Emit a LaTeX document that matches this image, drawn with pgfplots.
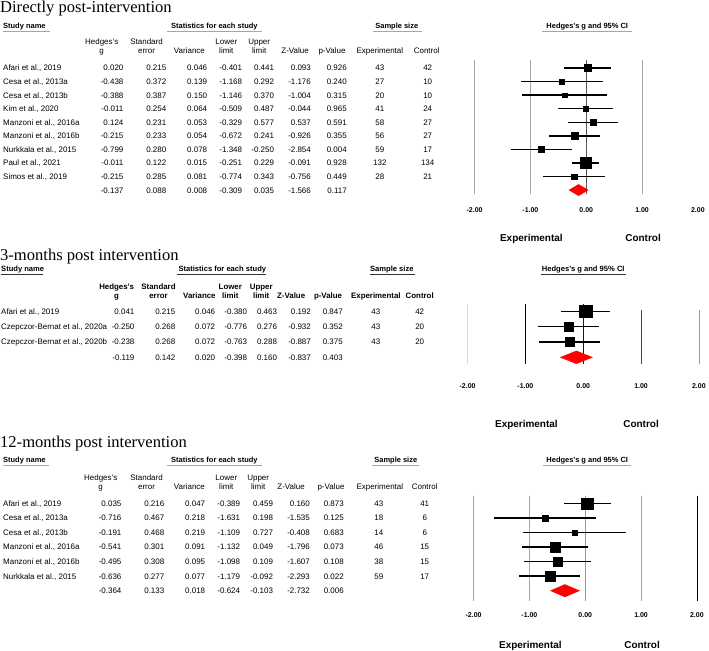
\documentclass[border=0pt]{standalone}
\usepackage{pgfplots}
\pgfplotsset{compat=1.18}
\usepackage{pgfplotstable}
\usepackage{fontspec}
\setmainfont{Liberation Sans}
\newfontfamily\tnr{Liberation Serif}
\newcommand\fs[1]{\fontsize{#1}{#1}\selectfont}

% forest data: row index, Hedges's g, lower, upper, half side of square (pt)
\pgfplotstableread{
row g lo hi s
0 0.020 -0.401 0.441 3.6
1 -0.438 -1.168 0.292 2.2
2 -0.388 -1.146 0.370 2.2
3 -0.011 -0.509 0.487 2.9
4 0.124 -0.329 0.577 3.3
5 -0.215 -0.672 0.241 3.5
6 -0.799 -1.348 -0.250 3.0
7 -0.011 -0.251 0.229 5.3
8 -0.215 -0.774 0.343 2.8
}\directpost
\pgfplotstableread{
row g lo hi s
0 0.041 -0.380 0.463 6.3
1 -0.250 -0.776 0.276 4.7
2 -0.238 -0.763 0.288 4.7
}\threemonths
\pgfplotstableread{
row g lo hi s
0 0.035 -0.389 0.459 5.8
1 -0.716 -1.631 0.198 2.8
2 -0.191 -1.109 0.727 2.8
3 -0.541 -1.132 0.049 4.7
4 -0.495 -1.098 0.109 4.5
5 -0.636 -1.179 -0.092 5.0
}\twelvemonths

\pgfplotsset{
  forest/.style={scale only axis, anchor=north west, clip=false,
    xmin=-2, xmax=2, y dir=reverse,
    axis line style={draw=none}, major tick style={draw=none},
    ytick=\empty, xtick={-2,-1,0,1,2},
    /pgf/number format/fixed, /pgf/number format/fixed zerofill,
    /pgf/number format/precision=2, /pgf/number format/assume math mode=true,
    xticklabel style={font=\bfseries\fs{7}}},
  study/.style={only marks, mark=square*, scatter,
    scatter/use mapped color={draw=black, fill=black},
    visualization depends on={\thisrow{s} \as \msize},
    scatter/@pre marker code/.append style={/tikz/mark size=\msize pt},
    error bars/x dir=both, error bars/x explicit, error bars/error mark=none,
    error bars/error bar style={line width=1.5pt, black}},
  vline/.style={line width=0.7pt, forget plot},
  pooled/.style={fill=red, draw=red, line width=0.3pt},
}

% table text helpers
\newcommand\rowtext[9]{%
  \node[anchor=base west] at (\xN,#1) {#2};
  \node[anchor=base east] at (\xa,#1) {#3};
  \node[anchor=base east] at (\xb,#1) {#4};
  \node[anchor=base east] at (\xc,#1) {#5};
  \node[anchor=base east] at (\xd,#1) {#6};
  \node[anchor=base east] at (\xe,#1) {#7};
  \node[anchor=base east] at (\xf,#1) {#8};
  \node[anchor=base east] at (\xg,#1) {#9};}
\newcommand\nn[3]{%
  \node[anchor=base] at (\xexp,#1) {#2};
  \node[anchor=base] at (\xctl,#1) {#3};}
\newcommand\hd[4]{% x, y1, line 1, line 2
  \node[anchor=base] at (#1,#2) {#3};
  \node[anchor=base] at (#1,#2+9) {#4};}

\begin{document}
\begin{tikzpicture}
\begin{scope}[x=1pt, y=-1pt, every node/.style={inner sep=0pt}]
\path[use as bounding box] (0,0) rectangle (709,652);

% ---------- Directly post-intervention ----------
\node[anchor=base west, font=\tnr\fs{16.6}] at (0,12.2) {Directly post-intervention};
\begin{scope}[font=\bfseries\fs{7.5}]
  \node[anchor=base west] at (3,28.5) {Study name};
  \node[anchor=base] at (215,28.5) {Statistics for each study};
  \node[anchor=base] at (398,28.5) {Sample size};
  \node[anchor=base] at (589,28.5) {Hedges's g and 95\% CI};
\end{scope}
\draw[gray!70, line width=0.8pt] (3,31.5)--(50,31.5) (167,31.5)--(263,31.5)
  (374,31.5)--(423,31.5) (544,31.5)--(634,31.5);
\begin{scope}[font=\fs{8}]
  \hd{102}{45}{Hedges's}{g}
  \hd{147}{45}{Standard}{error}
  \hd{227}{45}{Lower}{limit}
  \hd{260}{45}{Upper}{limit}
  \node[anchor=base] at (190,54) {Variance};
  \node[anchor=base] at (296,54) {Z-Value};
  \node[anchor=base] at (333,54) {p-Value};
  \node[anchor=base] at (381,54) {Experimental};
  \node[anchor=base] at (428,54) {Control};
  \def\xN{3}\def\xa{124}\def\xb{167}\def\xc{208}\def\xd{243}\def\xe{275}\def\xf{312}\def\xg{348}
  \def\xexp{381}\def\xctl{429}
  \rowtext{71.2}{Afari et al., 2019}{0.020}{0.215}{0.046}{-0.401}{0.441}{0.093}{0.926}\nn{71.2}{43}{42}
  \rowtext{84.8}{Cesa et al., 2013a}{-0.438}{0.372}{0.139}{-1.168}{0.292}{-1.176}{0.240}\nn{84.8}{27}{10}
  \rowtext{98.4}{Cesa et al., 2013b}{-0.388}{0.387}{0.150}{-1.146}{0.370}{-1.004}{0.315}\nn{98.4}{20}{10}
  \rowtext{112.0}{Kim et al., 2020}{-0.011}{0.254}{0.064}{-0.509}{0.487}{-0.044}{0.965}\nn{112.0}{41}{24}
  \rowtext{125.6}{Manzoni et al., 2016a}{0.124}{0.231}{0.053}{-0.329}{0.577}{0.537}{0.591}\nn{125.6}{58}{27}
  \rowtext{139.2}{Manzoni et al., 2016b}{-0.215}{0.233}{0.054}{-0.672}{0.241}{-0.926}{0.355}\nn{139.2}{56}{27}
  \rowtext{152.8}{Nurkkala et al., 2015}{-0.799}{0.280}{0.078}{-1.348}{-0.250}{-2.854}{0.004}\nn{152.8}{59}{17}
  \rowtext{166.4}{Paul et al., 2021}{-0.011}{0.122}{0.015}{-0.251}{0.229}{-0.091}{0.928}\nn{166.4}{132}{134}
  \rowtext{180.0}{Simos et al., 2019}{-0.215}{0.285}{0.081}{-0.774}{0.343}{-0.756}{0.449}\nn{180.0}{28}{21}
  \rowtext{193.6}{}{-0.137}{0.088}{0.008}{-0.309}{0.035}{-1.566}{0.117}
\end{scope}
\begin{scope}[font=\bfseries\fs{10}]
  \node[anchor=base] at (533,242) {Experimental};
  \node[anchor=base] at (645,242) {Control};
\end{scope}

% ---------- 3-months post intervention ----------
\node[anchor=base west, font=\tnr\fs{16.6}] at (0,261.5) {3-months post intervention};
\begin{scope}[font=\bfseries\fs{7.6}]
  \node[anchor=base west] at (1,272) {Study name};
  \node[anchor=base] at (223,272) {Statistics for each study};
  \node[anchor=base] at (393,272) {Sample size};
  \node[anchor=base] at (585,272) {Hedges's g and 95\% CI};
\end{scope}
\draw[black!80, line width=0.7pt] (1,274.8)--(43,274.8) (178,274.8)--(267,274.8)
  (371,274.8)--(416,274.8) (543,274.8)--(628,274.8);
\begin{scope}[font=\bfseries\fs{7.9}]
  \hd{117}{290.5}{Hedges's}{g}
  \hd{159}{290.5}{Standard}{error}
  \hd{231}{290.5}{Lower}{limit}
  \hd{262}{290.5}{Upper}{limit}
  \node[anchor=base] at (200,299.5) {Variance};
  \node[anchor=base] at (292,299.5) {Z-Value};
  \node[anchor=base] at (329,299.5) {p-Value};
  \node[anchor=base] at (377,299) {Experimental};
  \node[anchor=base] at (421,299) {Control};
\end{scope}
\begin{scope}[font=\fs{8}]
  \def\xN{1}\def\xa{135}\def\xb{176}\def\xc{216}\def\xd{248}\def\xe{278}\def\xf{312}\def\xg{344}
  \def\xexp{377}\def\xctl{421}
  \rowtext{315.3}{Afari et al., 2019}{0.041}{0.215}{0.046}{-0.380}{0.463}{0.192}{0.847}\nn{315.3}{43}{42}
  \rowtext{330.6}{Czepczor-Bernat et al., 2020a}{-0.250}{0.268}{0.072}{-0.776}{0.276}{-0.932}{0.352}\nn{330.6}{43}{20}
  \rowtext{346.0}{Czepczor-Bernat et al., 2020b}{-0.238}{0.268}{0.072}{-0.763}{0.288}{-0.887}{0.375}\nn{346.0}{43}{20}
  \rowtext{361.3}{}{-0.119}{0.142}{0.020}{-0.398}{0.160}{-0.837}{0.403}
\end{scope}
\begin{scope}[font=\bfseries\fs{10}]
  \node[anchor=base] at (528,429) {Experimental};
  \node[anchor=base] at (643,429) {Control};
\end{scope}

% ---------- 12-months post intervention ----------
\node[anchor=base west, font=\tnr\fs{16.6}] at (0,449) {12-months post intervention};
\begin{scope}[font=\bfseries\fs{7.5}]
  \node[anchor=base west] at (3,464) {Study name};
  \node[anchor=base] at (215,464) {Statistics for each study};
  \node[anchor=base] at (397,464) {Sample size};
  \node[anchor=base] at (589,464) {Hedges's g and 95\% CI};
\end{scope}
\draw[gray!70, line width=0.8pt] (3,466.8)--(49,466.8) (167,466.8)--(263,466.8)
  (373,466.8)--(420,466.8) (545,466.8)--(633,466.8);
\begin{scope}[font=\fs{8}]
  \hd{101}{481.5}{Hedges's}{g}
  \hd{147}{481.5}{Standard}{error}
  \hd{227}{481.5}{Lower}{limit}
  \hd{259}{481.5}{Upper}{limit}
  \node[anchor=base] at (190,490.5) {Variance};
  \node[anchor=base] at (292,490.5) {Z-Value};
  \node[anchor=base] at (332,490.5) {p-Value};
  \node[anchor=base] at (381,490.5) {Experimental};
  \node[anchor=base] at (426,490.5) {Control};
  \def\xN{3}\def\xa{122}\def\xb{165}\def\xc{206}\def\xd{241}\def\xe{274}\def\xf{311}\def\xg{345}
  \def\xexp{380}\def\xctl{426}
  \rowtext{507.9}{Afari et al., 2019}{0.035}{0.216}{0.047}{-0.389}{0.459}{0.160}{0.873}\nn{507.9}{43}{41}
  \rowtext{522.5}{Cesa et al., 2013a}{-0.716}{0.467}{0.218}{-1.631}{0.198}{-1.535}{0.125}\nn{522.5}{18}{6}
  \rowtext{537.1}{Cesa et al., 2013b}{-0.191}{0.468}{0.219}{-1.109}{0.727}{-0.408}{0.683}\nn{537.1}{14}{6}
  \rowtext{551.6}{Manzoni et al., 2016a}{-0.541}{0.301}{0.091}{-1.132}{0.049}{-1.796}{0.073}\nn{551.6}{46}{15}
  \rowtext{566.2}{Manzoni et al., 2016b}{-0.495}{0.308}{0.095}{-1.098}{0.109}{-1.607}{0.108}\nn{566.2}{38}{15}
  \rowtext{580.8}{Nurkkala et al., 2015}{-0.636}{0.277}{0.077}{-1.179}{-0.092}{-2.293}{0.022}\nn{580.8}{59}{17}
  \rowtext{595.4}{}{-0.364}{0.133}{0.018}{-0.624}{-0.103}{-2.732}{0.006}
\end{scope}
\begin{scope}[font=\bfseries\fs{10}]
  \node[anchor=base] at (532,650) {Experimental};
  \node[anchor=base] at (644,650) {Control};
\end{scope}
\end{scope}

% ---------- forest plots ----------
\begin{axis}[forest, at={(476pt,-60pt)}, width=224pt, height=135pt,
  ymin=-0.61, ymax=9.32, xticklabel style={yshift=-10pt}]
  \addplot[vline, gray!70] coordinates {(-2,-0.61) (-2,9.32)};
  \addplot[vline, gray!70] coordinates {(-1,-0.61) (-1,9.32)};
  \addplot[vline, black!65] coordinates {(0,-0.61) (0,9.32)};
  \addplot[vline, gray!70] coordinates {(1,-0.61) (1,9.32)};
  \addplot[study] table[x=g, y=row,
    x error minus expr=\thisrow{g}-\thisrow{lo},
    x error plus expr=\thisrow{hi}-\thisrow{g}] {\directpost};
  \addplot[pooled] coordinates {(-0.309,9) (-0.137,8.58) (0.035,9) (-0.137,9.42) (-0.309,9)};
\end{axis}

\begin{axis}[forest, at={(469pt,-305pt)}, width=232pt, height=60pt,
  ymin=-0.476, ymax=3.43, xticklabel style={yshift=-16pt}]
  \addplot[vline, gray!30] coordinates {(-2,-0.476) (-2,3.43)};
  \addplot[vline, black] coordinates {(-1,-0.476) (-1,3.43)};
  \addplot[vline, black!90] coordinates {(0,-0.476) (0,3.43)};
  \addplot[vline, black!75] coordinates {(1,-0.08) (1,3.43)};
  \addplot[vline, gray!80] coordinates {(2,-0.08) (2,3.43)};
  \addplot[study] table[x=g, y=row,
    x error minus expr=\thisrow{g}-\thisrow{lo},
    x error plus expr=\thisrow{hi}-\thisrow{g}] {\threemonths};
  \addplot[pooled] coordinates {(-0.398,3) (-0.119,2.58) (0.160,3) (-0.119,3.42) (-0.398,3)};
\end{axis}

\begin{axis}[forest, at={(475pt,-497pt)}, width=224pt, height=106pt,
  ymin=-0.55, ymax=6.72, xticklabel style={yshift=-8pt}]
  \addplot[vline, gray!70] coordinates {(-2,-0.55) (-2,6.72)};
  \addplot[vline, gray!70] coordinates {(-1,-0.55) (-1,6.72)};
  \addplot[vline, gray!80] coordinates {(0,-0.55) (0,6.72)};
  \addplot[vline, gray!70] coordinates {(1,-0.55) (1,6.72)};
  \addplot[vline, black] coordinates {(2,-0.55) (2,6.72)};
  \addplot[study] table[x=g, y=row,
    x error minus expr=\thisrow{g}-\thisrow{lo},
    x error plus expr=\thisrow{hi}-\thisrow{g}] {\twelvemonths};
  \addplot[pooled] coordinates {(-0.624,6) (-0.364,5.57) (-0.103,6) (-0.364,6.43) (-0.624,6)};
\end{axis}
\end{tikzpicture}
\end{document}
